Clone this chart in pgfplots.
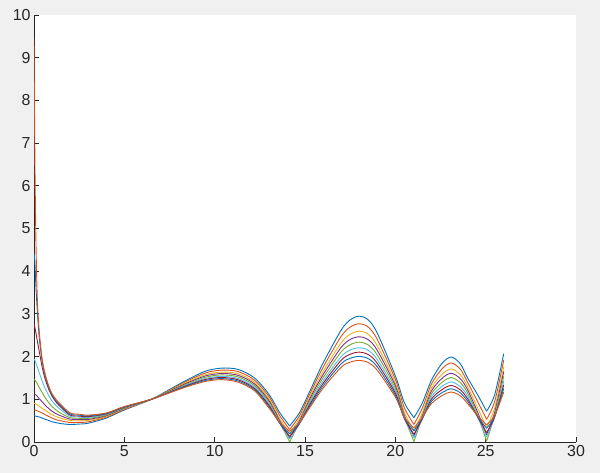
\documentclass[border=0pt]{standalone}
\usepackage{fontspec}
\setmainfont{Liberation Sans}
\usepackage{pgfplots}
\pgfplotsset{compat=1.18}
\usepackage{pgfplotstable}
\definecolor{mA}{rgb}{0,0.447,0.741}
\definecolor{mB}{rgb}{0.85,0.325,0.098}
\definecolor{mC}{rgb}{0.929,0.694,0.125}
\definecolor{mD}{rgb}{0.494,0.184,0.556}
\definecolor{mE}{rgb}{0.466,0.674,0.188}
\definecolor{mF}{rgb}{0.301,0.745,0.933}
\definecolor{mG}{rgb}{0.635,0.078,0.184}
\definecolor{figbg}{HTML}{F0F0F0}
\definecolor{axc}{HTML}{262626}

\pgfplotstableread{
x     k1    k2    k3    k4    k5    k6    k7    k8    k9
0     0.61  0.75  0.905 1.13  1.47  1.95  2.77  4.43  9.43
0.05  0.61  0.748 0.9   1.12  1.45  1.91  2.68  4.2   6.6
0.1   0.605 0.743 0.89  1.105 1.42  1.86  2.57  3.7   4.9
0.15  0.6   0.735 0.88  1.085 1.385 1.8   2.45  3.3   3.85
0.2   0.595 0.727 0.865 1.06  1.35  1.74  2.33  2.95  3.2
0.3   0.585 0.71  0.835 1.01  1.27  1.61  2.1   2.4   2.55
0.45  0.56  0.68  0.79  0.94  1.16  1.43  1.76  1.9   1.95
0.6   0.535 0.645 0.745 0.87  1.05  1.27  1.5   1.58  1.62
0.8   0.505 0.6   0.69  0.79  0.93  1.1   1.25  1.3   1.33
1     0.475 0.56  0.64  0.72  0.83  0.96  1.07  1.1   1.13
1.25  0.45  0.52  0.59  0.655 0.74  0.84  0.92  0.95  0.98
1.5   0.43  0.495 0.555 0.61  0.67  0.75  0.81  0.84  0.87
2     0.41  0.456 0.502 0.536 0.569 0.603 0.63  0.655 0.68
2.5   0.42  0.459 0.498 0.527 0.555 0.584 0.607 0.629 0.65
3     0.44  0.472 0.505 0.528 0.552 0.575 0.594 0.613 0.63
4     0.56  0.58  0.601 0.616 0.631 0.646 0.658 0.669 0.68
5     0.75  0.764 0.778 0.788 0.798 0.808 0.816 0.823 0.83
6.5   1     1     1     1     1     1     1     1     1
7.5   1.23  1.216 1.203 1.193 1.183 1.173 1.165 1.157 1.15
8.5   1.46  1.433 1.406 1.386 1.366 1.346 1.33  1.315 1.3
9.5   1.66  1.619 1.578 1.548 1.519 1.489 1.465 1.442 1.42
10.4  1.73  1.684 1.638 1.604 1.571 1.537 1.51  1.485 1.46
11.3  1.7   1.649 1.598 1.561 1.524 1.486 1.456 1.428 1.4
12.2  1.5   1.449 1.398 1.361 1.324 1.286 1.256 1.228 1.2
13    1.12  1.066 1.011 0.971 0.932 0.892 0.86  0.829 0.8
13.6  0.69  0.62  0.55  0.5   0.46  0.446 0.44  0.44  0.46
14.15 0.375 0.29  0.2   0.1   0     0.07  0.13  0.19  0.25
14.7  0.69  0.62  0.55  0.5   0.46  0.446 0.44  0.44  0.46
15.3  1.22  1.154 1.087 1.039 0.991 0.942 0.903 0.866 0.83
16    1.85  1.75  1.649 1.576 1.503 1.429 1.37  1.314 1.26
17    2.62  2.472 2.324 2.215 2.108 1.997 1.913 1.83  1.75
17.5  2.86  2.692 2.523 2.4   2.278 2.154 2.055 1.961 1.87
18    2.946 2.768 2.595 2.464 2.338 2.207 2.104 2.004 1.91
18.5  2.86  2.69  2.52  2.395 2.272 2.147 2.047 1.952 1.86
19    2.55  2.402 2.254 2.145 2.038 1.93  1.843 1.76  1.68
20    1.55  1.465 1.38  1.318 1.256 1.194 1.144 1.096 1.05
20.5  0.92  0.8   0.69  0.62  0.58  0.56  0.55  0.56  0.58
21.03 0.57  0.41  0.27  0.13  0.01  0.1   0.18  0.26  0.33
21.5  0.92  0.8   0.69  0.62  0.58  0.56  0.55  0.56  0.58
22    1.45  1.357 1.263 1.194 1.127 1.058 1.003 0.951 0.9
22.6  1.85  1.721 1.592 1.497 1.403 1.308 1.232 1.16  1.09
23.1  1.99  1.851 1.711 1.609 1.508 1.405 1.323 1.245 1.17
23.6  1.83  1.703 1.575 1.481 1.389 1.295 1.22  1.149 1.08
24    1.5   1.398 1.296 1.221 1.147 1.072 1.012 0.955 0.9
24.55 1.11  0.95  0.8   0.7   0.63  0.59  0.59  0.6   0.62
25.05 0.72  0.53  0.35  0.17  0.02  0.12  0.22  0.32  0.4
25.5  1.11  0.95  0.8   0.7   0.63  0.59  0.59  0.6   0.62
26    2.07  1.917 1.764 1.652 1.541 1.428 1.338 1.253 1.17
}\curves

\newcommand{\fullcurve}[2]{%
  \addplot[#1, smooth, restrict x to domain=0:14.16] table[x=x, y=#2] {\curves};
  \addplot[#1, smooth, restrict x to domain=14.14:21.04] table[x=x, y=#2] {\curves};
  \addplot[#1, smooth, restrict x to domain=21.02:25.06] table[x=x, y=#2] {\curves};
  \addplot[#1, smooth, restrict x to domain=25.04:26] table[x=x, y=#2] {\curves};
}

\begin{document}
\begin{tikzpicture}[x=1bp,y=1bp]
\fill[figbg] (0,0) rectangle (600,473);
\begin{axis}[
  at={(34bp,31bp)}, anchor=south west,
  scale only axis, width=542bp, height=427bp,
  xmin=0, xmax=30, ymin=0, ymax=10,
  axis x line=bottom, axis y line=left,
  axis line style={axc, line width=0.8bp, -},
  x axis line style={-}, y axis line style={-},
  tick align=inside, major tick length=5bp,
  tick style={axc, line width=0.8bp},
  xtick={0,5,...,30}, ytick={0,1,...,10},
  ticklabel style={font=\fontsize{16}{19}\selectfont, text=axc},
  /pgf/number format/assume math mode=true,
  axis background/.style={fill=white},
  every axis plot/.append style={line width=0.9bp, mark=none},
]
\fullcurve{mA}{k1}
\fullcurve{mB}{k2}
\fullcurve{mC}{k3}
\fullcurve{mD}{k4}
\fullcurve{mE}{k5}
\fullcurve{mF}{k6}
\fullcurve{mG}{k7}
\fullcurve{mA}{k8}
\fullcurve{mB}{k9}
\end{axis}
\end{tikzpicture}
\end{document}
